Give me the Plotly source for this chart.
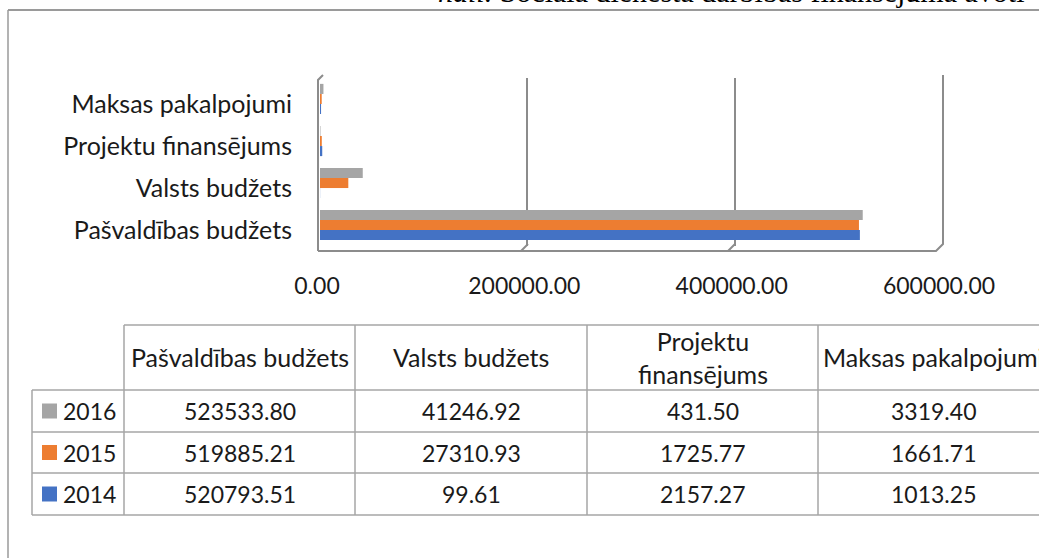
import plotly.graph_objects as go

# ---------------- data ----------------
categories = ["Pašvaldības budžets", "Valsts budžets", "Projektu finansējums", "Maksas pakalpojumi"]
table_headers = ["Pašvaldības budžets", "Valsts budžets", "Projektu<br>finansējums", "Maksas pakalpojumi"]
years = ["2014", "2015", "2016"]
values_2014 = [520793.51, 99.61, 2157.27, 1013.25]
values_2015 = [519885.21, 27310.93, 1725.77, 1661.71]
values_2016 = [523533.80, 41246.92, 431.50, 3319.40]
x_ticks = [0, 200000, 400000, 600000]
x_tick_labels = ["0.00", "200000.00", "400000.00", "600000.00"]
top_text = "<i>nāli.</i> Sociālā dienesta darbības finansējuma avoti"

series = {"2014": values_2014, "2015": values_2015, "2016": values_2016}
colors = {"2014": "#4472C4", "2015": "#ED7D31", "2016": "#A5A5A5"}

W, H = 1039, 558
FONT = "Lato"
FS_TXT = 25
FS_NUM = 23
TXT_COL = "#1a1a1a"


def px(x):
    return x / W


def py(y):
    return 1 - y / H


fig = go.Figure()
for yr in years:
    fig.add_trace(go.Bar(
        y=categories, x=series[yr], orientation="h", name=yr,
        marker=dict(color=colors[yr], line=dict(width=0)),
        hoverinfo="skip",
    ))

shapes = []
annotations = []

# chart frame
frame_col = "#9a9a9a"
shapes.append(dict(type="line", xref="paper", yref="paper", x0=px(8), x1=px(1045), y0=py(10), y1=py(10),
                   line=dict(color=frame_col, width=2)))
shapes.append(dict(type="line", xref="paper", yref="paper", x0=px(8), x1=px(8), y0=py(10), y1=py(565),
                   line=dict(color=frame_col, width=1.5)))

# 3D floor / walls outline
wall_col = "#8c8c8c"
floor_path = "M {a},{b} L {c},{b} L {d},{e} L {d},{f}".format(
    a=px(318), b=py(251), c=px(936), d=px(943), e=py(244), f=py(75))
shapes.append(dict(type="path", xref="paper", yref="paper", path=floor_path,
                   line=dict(color=wall_col, width=2)))
wall_path = "M {a},{b} L {a},{c} L {d},{e}".format(a=px(318), b=py(251), c=py(80), d=px(323), e=py(75))
shapes.append(dict(type="path", xref="paper", yref="paper", path=wall_path,
                   line=dict(color=wall_col, width=2)))
for gx in [528, 735]:
    shapes.append(dict(type="line", xref="paper", yref="paper", x0=px(gx), x1=px(gx - 7), y0=py(244), y1=py(251),
                       line=dict(color=wall_col, width=2)))

# ---------------- data table ----------------
tcol = "#a6a6a6"
col_x = [32, 124, 355, 587, 818, 1045]
row_y = [325, 390, 432, 473, 515]
shapes.append(dict(type="line", xref="paper", yref="paper", x0=px(124), x1=px(1045), y0=py(325), y1=py(325),
                   line=dict(color=tcol, width=1.5)))
for ry in row_y[1:]:
    shapes.append(dict(type="line", xref="paper", yref="paper", x0=px(32), x1=px(1045), y0=py(ry), y1=py(ry),
                       line=dict(color=tcol, width=1.5)))
shapes.append(dict(type="line", xref="paper", yref="paper", x0=px(32), x1=px(32), y0=py(390), y1=py(515),
                   line=dict(color=tcol, width=1.5)))
for cx in col_x[1:5]:
    shapes.append(dict(type="line", xref="paper", yref="paper", x0=px(cx), x1=px(cx), y0=py(325), y1=py(515),
                       line=dict(color=tcol, width=1.5)))

col_centers = [239.5, 471, 702.5, 933]

# header texts
for i, h in enumerate(table_headers):
    annotations.append(dict(xref="paper", yref="paper", x=px(col_centers[i]), y=py(357), text=h, showarrow=False,
                            xanchor="center", yanchor="middle",
                            font=dict(family=FONT, size=FS_TXT, color=TXT_COL)))

# rows (top to bottom: 2016, 2015, 2014)
for r, yr in enumerate(reversed(years)):
    cy = (row_y[r + 1] + row_y[r + 2]) / 2
    shapes.append(dict(type="rect", xref="paper", yref="paper", x0=px(42), x1=px(57), y0=py(cy - 7.5), y1=py(cy + 7.5),
                       fillcolor=colors[yr], line=dict(width=0)))
    annotations.append(dict(xref="paper", yref="paper", x=px(61), y=py(cy), text=yr, showarrow=False,
                            xanchor="left", yanchor="middle", font=dict(family=FONT, size=FS_NUM, color=TXT_COL)))
    for i, v in enumerate(series[yr]):
        annotations.append(dict(xref="paper", yref="paper", x=px(col_centers[i]), y=py(cy), text="{:.2f}".format(v),
                                showarrow=False, xanchor="center", yanchor="middle",
                                font=dict(family=FONT, size=FS_NUM, color=TXT_COL)))

# clipped caption at top
annotations.append(dict(xref="paper", yref="paper", x=px(436), y=py(-9), text=top_text,
                        showarrow=False, xanchor="left", yanchor="middle",
                        font=dict(family="Liberation Serif", size=30, color="#000000")))

fig.update_layout(
    width=W, height=H,
    margin=dict(l=0, r=0, t=0, b=0, pad=0, autoexpand=False),
    paper_bgcolor="white", plot_bgcolor="white",
    barmode="group", bargap=0.28, bargroupgap=0,
    showlegend=False,
    hovermode=False,
    xaxis=dict(domain=[px(320), px(942)], range=[0, 600000], tickvals=x_ticks, ticktext=x_tick_labels,
               showgrid=True, gridcolor=wall_col, gridwidth=2, zeroline=False, showline=False,
               ticks="", ticklabelstandoff=24, ticklabelshift=-3, automargin=False,
               tickfont=dict(family=FONT, size=FS_NUM, color=TXT_COL), fixedrange=True),
    yaxis=dict(domain=[py(246), py(78)], showgrid=False, zeroline=False, showline=False,
               ticks="", ticklabelstandoff=27, ticklabelshift=5, automargin=False,
               tickfont=dict(family=FONT, size=FS_TXT, color=TXT_COL), fixedrange=True),
    shapes=shapes,
    annotations=annotations,
)

fig.write_html("out.html",
               config={"displayModeBar": False, "staticPlot": True},
               post_script="document.body.style.margin='0';document.body.style.overflow='hidden';")
